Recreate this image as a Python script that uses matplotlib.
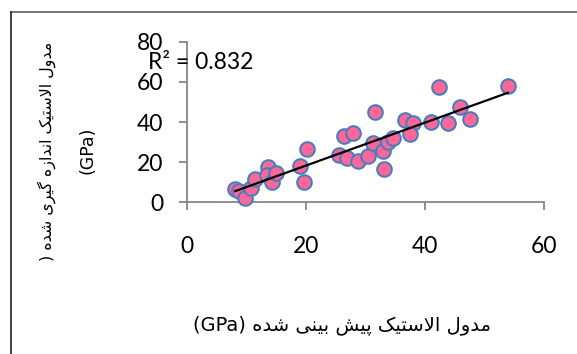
import matplotlib
matplotlib.use("Agg")
import matplotlib.pyplot as plt
from matplotlib.lines import Line2D
import numpy as np

# predicted vs measured elastic modulus (GPa)
predicted = [8.1, 8.8, 9.7, 10.7, 11.4, 13.6, 13.5, 14.2, 15.0, 19.0, 20.2, 19.7,
             25.6, 26.9, 26.4, 27.9, 28.8, 30.4, 31.6, 31.3, 32.9, 33.0, 33.8,
             34.6, 36.6, 37.9, 37.4, 40.9, 42.3, 43.8, 45.8, 47.5, 53.9]
measured = [6.4, 5.6, 2.0, 7.0, 11.4, 17.4, 13.6, 10.2, 14.7, 18.0, 26.5, 10.0,
            23.4, 22.3, 33.0, 34.6, 20.5, 23.0, 45.0, 29.3, 25.5, 16.6, 30.0,
            31.8, 41.0, 39.3, 33.8, 40.1, 57.2, 39.6, 47.6, 41.3, 57.8]
r2_text = "R² = 0.832"

xticks = [0, 20, 40, 60]
yticks = [0, 20, 40, 60, 80]

# --- minimal persian shaping (matplotlib has no complex text layout) ---
FORMS = {  # isolated, final, initial, medial
    "ا": ("\uFE8D", "\uFE8E", None, None),
    "ب": ("\uFE8F", "\uFE90", "\uFE91", "\uFE92"),
    "پ": ("\uFB56", "\uFB57", "\uFB58", "\uFB59"),
    "ت": ("\uFE95", "\uFE96", "\uFE97", "\uFE98"),
    "د": ("\uFEA9", "\uFEAA", None, None),
    "ر": ("\uFEAD", "\uFEAE", None, None),
    "ز": ("\uFEAF", "\uFEB0", None, None),
    "س": ("\uFEB1", "\uFEB2", "\uFEB3", "\uFEB4"),
    "ش": ("\uFEB5", "\uFEB6", "\uFEB7", "\uFEB8"),
    "ک": ("\uFB8E", "\uFB8F", "\uFB90", "\uFB91"),
    "گ": ("\uFB92", "\uFB93", "\uFB94", "\uFB95"),
    "ل": ("\uFEDD", "\uFEDE", "\uFEDF", "\uFEE0"),
    "م": ("\uFEE1", "\uFEE2", "\uFEE3", "\uFEE4"),
    "ن": ("\uFEE5", "\uFEE6", "\uFEE7", "\uFEE8"),
    "ه": ("\uFEE9", "\uFEEA", "\uFEEB", "\uFEEC"),
    "و": ("\uFEED", "\uFEEE", None, None),
    "ی": ("\uFBFC", "\uFBFD", "\uFBFE", "\uFBFF"),
    "\u0644\u0627": ("\uFEFB", "\uFEFC", None, None),  # lam-alef
}


def joins_next(ch):
    return ch in FORMS and FORMS[ch][2] is not None


def shape(text):
    # split into letters, merging lam+alef
    chars = []
    i = 0
    while i < len(text):
        if text[i:i + 2] == "\u0644\u0627":
            chars.append("\u0644\u0627")
            i += 2
        else:
            chars.append(text[i])
            i += 1
    out = []
    for k, ch in enumerate(chars):
        if ch not in FORMS:
            out.append(ch)
            continue
        prev = chars[k - 1] if k > 0 else ""
        nxt = chars[k + 1] if k + 1 < len(chars) else ""
        a = joins_next(prev)
        b = joins_next(ch) and nxt in FORMS
        iso, fin, ini, med = FORMS[ch]
        if a and b:
            out.append(med)
        elif a:
            out.append(fin)
        elif b:
            out.append(ini)
        else:
            out.append(iso)
    return "".join(reversed(out))


xlabel = "(GPa) " + shape("مدول الاستیک پیش بینی شده")
ylabel1 = ") " + shape("مدول الاستیک اندازه گیری شده")
ylabel2 = "(GPa)"

fig = plt.figure(figsize=(5.77, 3.54), dpi=100)
ax = fig.add_axes([0.3241, 0.4285, 0.6192, 0.4537])

ax.scatter(predicted, measured, s=110, facecolor="#FF6699", edgecolor="#4A7EBB",
           linewidth=1.5, zorder=3, clip_on=False)

# linear trendline
coef = np.polyfit(predicted, measured, 1)
xs = np.array([min(predicted), max(predicted)])
ax.plot(xs, np.polyval(coef, xs), color="black", lw=1.6, zorder=4)

ax.set_xlim(0, 60)
ax.set_ylim(0, 80)
ax.set_xticks(xticks)
ax.set_yticks(yticks)
for s in ["top", "right"]:
    ax.spines[s].set_visible(False)
for s in ["left", "bottom"]:
    ax.spines[s].set_color("#868686")
    ax.spines[s].set_linewidth(1.3)
ax.tick_params(axis="both", colors="#868686", length=6, width=1.3, labelcolor="black",
               labelsize=16.5)
ax.tick_params(axis="x", pad=18)
ax.tick_params(axis="y", pad=11)
for lab in ax.get_xticklabels() + ax.get_yticklabels():
    lab.set_family("Lato")

ax.text(-6.6, 69.5, r2_text, fontsize=16.5, family="Lato", ha="left", va="center")

fig.text(0.593, 0.082, xlabel, fontsize=14, family="DejaVu Sans",
         ha="center", va="center")
fig.text(0.081, 0.573, ylabel1, fontsize=11.4, family="DejaVu Sans", rotation=90,
         ha="center", va="center")
fig.text(0.152, 0.576, ylabel2, fontsize=12.5, family="DejaVu Sans", rotation=90,
         ha="center", va="center")

# chart frame edges
fig.add_artist(Line2D([0.0185, 1.0], [0.9653, 0.9653], color="#5F5F5F", lw=1.2))
fig.add_artist(Line2D([0.0185, 0.0185], [0.0, 0.9653], color="#222222", lw=1.2))

fig.savefig("out.png", dpi=100)
